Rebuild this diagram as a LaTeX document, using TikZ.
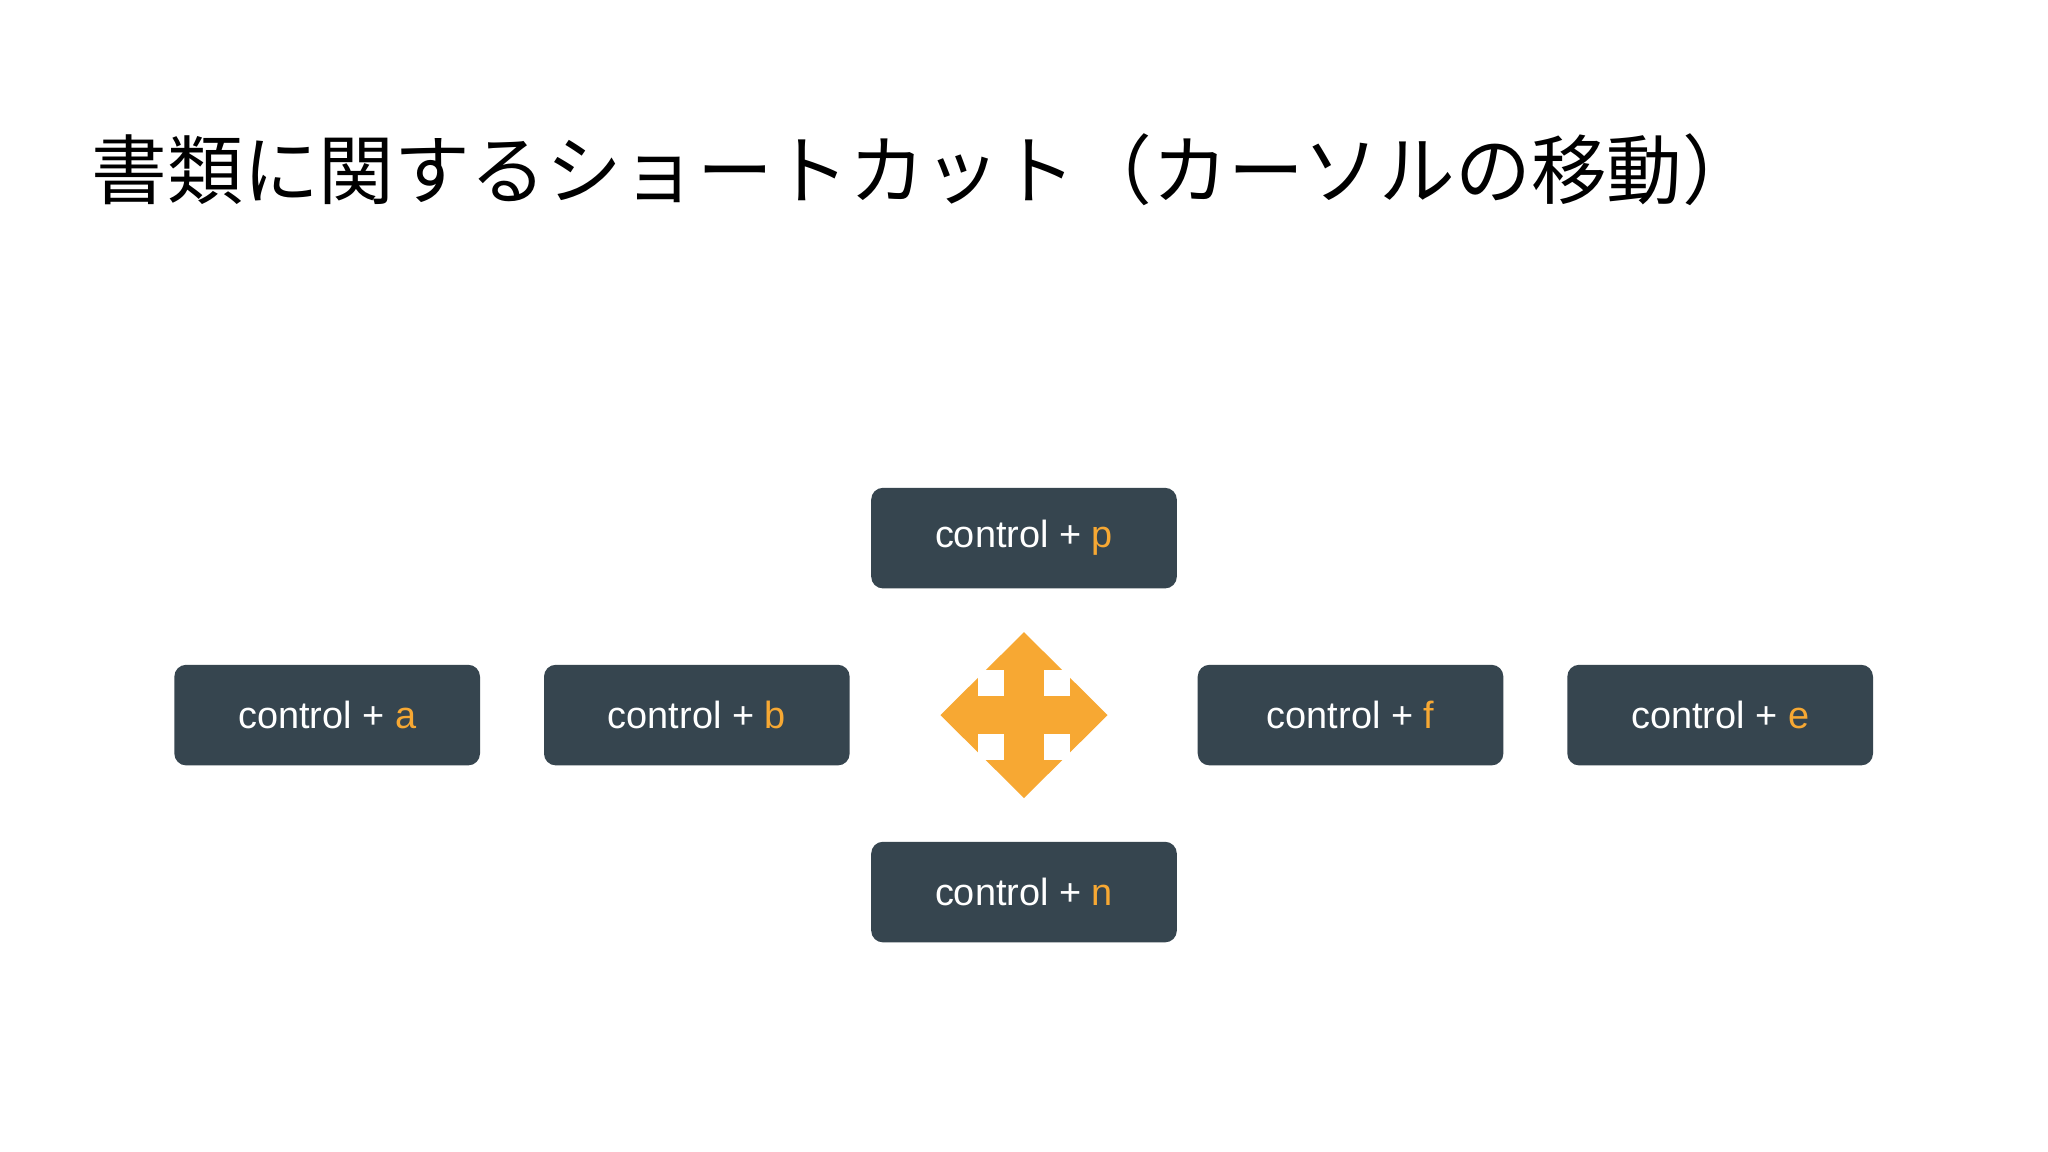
\documentclass[tikz,border=0pt]{standalone}
\usepackage{fontspec}
\setmainfont{Liberation Sans}
\newfontfamily\jp{Noto Sans CJK JP}
\definecolor{boxc}{HTML}{36454F}
\definecolor{org}{HTML}{F7A833}
\begin{document}
\begin{tikzpicture}[x=1pt,y=-1pt,
  key/.style={fill=boxc,rounded corners=9pt,minimum width=234pt,minimum height=77pt,text=white,font=\fontsize{29}{34}\selectfont,inner sep=0pt}]
\useasboundingbox[fill=white] (0,0) rectangle (1568,882);
\node[anchor=base west,font=\jp\fontsize{58}{64}\selectfont,inner sep=0pt] (title) at (70,152) {書類に関するショートカット（カーソルの移動）};
\node[key] (p) at (784,412) {control + \textcolor{org}{p}};
\node[key] (n) at (784,683) {control + \textcolor{org}{n}};
\node[key] (a) at (250.5,547.5) {control + \textcolor{org}{a}};
\node[key] (b) at (533.5,547.5) {control + \textcolor{org}{b}};
\node[key] (f) at (1034,547.5) {control + \textcolor{org}{f}};
\node[key] (e) at (1317,547.5) {control + \textcolor{org}{e}};
\fill[org] (784,484) -- (848,547.5) -- (784,611) -- (720,547.5) -- cycle;
\fill[white] (749,513) rectangle (769,533);
\fill[white] (799,513) rectangle (819,533);
\fill[white] (749,562) rectangle (769,582);
\fill[white] (799,562) rectangle (819,582);
\end{tikzpicture}
\end{document}
